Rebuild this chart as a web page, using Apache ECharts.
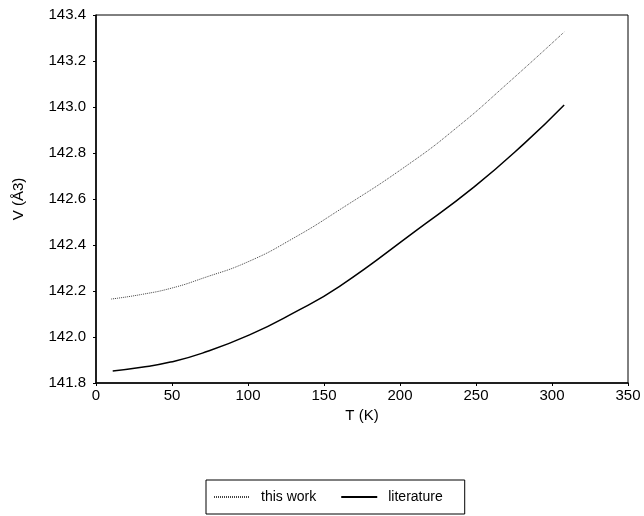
<!DOCTYPE html>
<html>
    <head>
        <meta charset="UTF-8">
        <title>V(T)</title>
        <script type="text/javascript" src="https://cdn.jsdelivr.net/npm/echarts@6/dist/echarts.min.js"></script>
    </head>
    <body style="height: 100%; margin: 0; overflow: hidden;">
        <div id="container" style="width: 644px; height: 516px"></div>
    </body>
    <script type="text/javascript">
        var dom = document.getElementById("container");
        var myChart = echarts.init(dom);
        var option;

        // this work (dotted)
        const workT = [10, 30, 50, 70, 100, 130, 160, 205, 238, 271, 308];
        const workV = [142.165, 142.185, 142.213, 142.255, 142.327, 142.43, 142.552, 142.748, 142.914, 143.104, 143.326];
        // literature (solid)
        const litT = [11, 30, 49, 70, 101, 130, 160, 211, 249, 282, 308];
        const litV = [141.852, 141.868, 141.891, 141.93, 142.009, 142.105, 142.219, 142.465, 142.654, 142.843, 143.009];

        const font = 'Liberation Sans';

        function pairs(xs, ys) {
            return xs.map(function (x, i) { return [x, ys[i]]; });
        }

        option = {
            animation: false,
            backgroundColor: '#fff',
            textStyle: { fontFamily: font },
            grid: {
                left: 96,
                right: 16,
                top: 15,
                bottom: 133,
                show: true,
                borderColor: '#000',
                borderWidth: 1
            },
            legend: {
                left: 206,
                top: 480,
                data: ['this work', 'literature'],
                borderColor: '#000',
                borderWidth: 1,
                borderRadius: 0,
                padding: [10, 22, 10, 7],
                itemGap: 24,
                itemWidth: 36,
                itemHeight: 10,
                itemStyle: { opacity: 0 },
                textStyle: { fontFamily: font, fontSize: 14, color: '#000', padding: [0, 0, 0, 6] }
            },
            xAxis: {
                type: 'value',
                min: 0,
                max: 350,
                interval: 50,
                name: 'T (K)',
                nameLocation: 'middle',
                nameGap: 24,
                nameTextStyle: { fontFamily: font, fontSize: 15, color: '#000' },
                axisLine: { lineStyle: { color: '#000', width: 1.5 } },
                axisTick: { inside: false, length: 3, lineStyle: { color: '#000' } },
                axisLabel: { fontFamily: font, fontSize: 15, color: '#000', margin: 5 },
                splitLine: { show: false }
            },
            yAxis: {
                type: 'value',
                min: 141.8,
                max: 143.4,
                interval: 0.2,
                name: 'V (Å3)',
                nameLocation: 'middle',
                nameGap: 70,
                nameTextStyle: { fontFamily: font, fontSize: 15, color: '#000' },
                axisLine: { show: true, lineStyle: { color: '#000', width: 1.5 } },
                axisTick: { show: true, inside: false, length: 3, lineStyle: { color: '#000' } },
                axisLabel: {
                    fontFamily: font, fontSize: 15, color: '#000', margin: 10,
                    formatter: function (v) { return v.toFixed(1); }
                },
                splitLine: { show: false }
            },
            series: [
                {
                    name: 'this work',
                    type: 'line',
                    smooth: true,
                    symbol: 'none',
                    data: pairs(workT, workV),
                    lineStyle: { color: '#444', width: 1, type: [1, 1] },
                    itemStyle: { color: '#444' }
                },
                {
                    name: 'literature',
                    type: 'line',
                    smooth: true,
                    symbol: 'none',
                    data: pairs(litT, litV),
                    lineStyle: { color: '#000', width: 1.5 },
                    itemStyle: { color: '#000' }
                }
            ]
        };

        if (option && typeof option === 'object') {
            myChart.setOption(option);
        }
    </script>
</html>
